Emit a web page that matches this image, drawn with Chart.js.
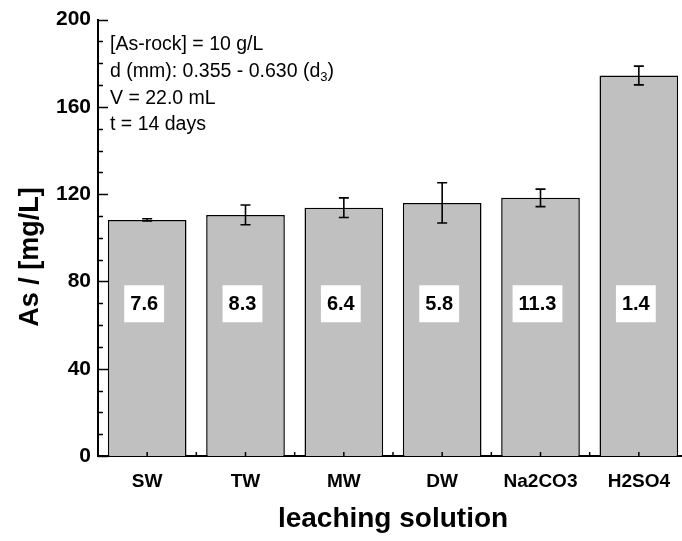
<!DOCTYPE html>
<html>
<head>
<meta charset="utf-8">
<script src="https://cdn.jsdelivr.net/npm/chart.js@4/dist/chart.umd.min.js"></script>
<style>
  html, body { margin: 0; padding: 0; background: #fff; overflow: hidden; }
  #wrap { width: 690px; height: 541px; }
</style>
</head>
<body>
<div id="wrap"><canvas id="leachChart"></canvas></div>
<script>
const solutions = ["SW", "TW", "MW", "DW", "Na2CO3", "H2SO4"];
const asConc = [108.2, 110.5, 113.8, 116.0, 118.3, 174.4];
const asErr = [0.5, 4.5, 4.5, 9.2, 4.0, 4.3];
const ratioLabels = ["7.6", "8.3", "6.4", "5.8", "11.3", "1.4"];
const yTickLabels = [0, 40, 80, 120, 160, 200];
const noteLines = ["[As-rock] = 10 g/L", "d (mm): 0.355 - 0.630 (d", "V = 22.0 mL", "t = 14 days"];

const FONT = "'Liberation Sans', Arial, sans-serif";

const decor = {
  id: "decor",
  afterDatasetsDraw(chart) {
    const ctx = chart.ctx;
    const x = chart.scales.x;
    const y = chart.scales.y;
    ctx.save();
    // error bars
    ctx.strokeStyle = "#000";
    ctx.lineWidth = 1.6;
    asConc.forEach((v, i) => {
      const cx = x.getPixelForValue(i);
      const top = y.getPixelForValue(v + asErr[i]);
      const bot = y.getPixelForValue(v - asErr[i]);
      ctx.beginPath();
      ctx.moveTo(cx, top); ctx.lineTo(cx, bot);
      ctx.moveTo(cx - 5, top); ctx.lineTo(cx + 5, top);
      ctx.moveTo(cx - 5, bot); ctx.lineTo(cx + 5, bot);
      ctx.stroke();
    });
    // white boxes with ratio numbers
    ctx.font = "bold 20px " + FONT;
    ctx.textAlign = "center";
    ctx.textBaseline = "middle";
    const by = y.getPixelForValue(70);
    ratioLabels.forEach((t, i) => {
      const cx = x.getPixelForValue(i) - 3;
      const w = ctx.measureText(t).width + 12;
      ctx.fillStyle = "#fff";
      ctx.fillRect(cx - w / 2, by - 18, w, 37);
      ctx.fillStyle = "#000";
      ctx.fillText(t, cx, by + 1);
    });
    ctx.restore();
  },
  afterDraw(chart) {
    const ctx = chart.ctx;
    const x = chart.scales.x;
    const y = chart.scales.y;
    const area = chart.chartArea;
    ctx.save();
    ctx.strokeStyle = "#000";
    ctx.lineWidth = 1.5;
    // inward y ticks
    for (let v = 0; v <= 200; v += 10) {
      const py = Math.round(y.getPixelForValue(v)) + 0.5;
      const len = v % 40 === 0 ? 10 : 5;
      ctx.beginPath();
      ctx.moveTo(area.left, py);
      ctx.lineTo(area.left + len, py);
      ctx.stroke();
    }
    // inward x ticks at centres and boundaries
    for (let i = 0; i < solutions.length; i++) {
      [x.getPixelForValue(i), x.getPixelForValue(i - 0.5)].forEach((px) => {
        ctx.beginPath();
        ctx.moveTo(px, area.bottom);
        ctx.lineTo(px, area.bottom - 4);
        ctx.stroke();
      });
    }
    // axis titles
    ctx.fillStyle = "#000";
    ctx.textAlign = "center";
    ctx.textBaseline = "middle";
    ctx.font = "bold 28px " + FONT;
    ctx.fillText("leaching solution", (area.left + area.right) / 2, 519);
    ctx.save();
    ctx.translate(31, 257);
    ctx.rotate(-Math.PI / 2);
    ctx.font = "bold 27px " + FONT;
    ctx.fillText("As / [mg/L]", 0, 0);
    ctx.restore();
    // note block
    ctx.textAlign = "left";
    ctx.font = "19.5px " + FONT;
    const lx = area.left + 12;
    noteLines.forEach((t, i) => {
      const ly = 45 + i * 26.7;
      ctx.fillText(t, lx, ly);
      if (i === 1) {
        const w = ctx.measureText(t).width;
        ctx.font = "13px " + FONT;
        ctx.fillText("3", lx + w, ly + 6);
        const w3 = ctx.measureText("3").width;
        ctx.font = "19.5px " + FONT;
        ctx.fillText(")", lx + w + w3, ly);
      }
    });
    ctx.restore();
  }
};

new Chart(document.getElementById("leachChart").getContext("2d"), {
  type: "bar",
  data: {
    labels: solutions,
    datasets: [{
      data: asConc,
      backgroundColor: "#c0c0c0",
      borderColor: "#000",
      borderWidth: 1.5,
      barPercentage: 0.8,
      categoryPercentage: 1.0
    }]
  },
  options: {
    responsive: true,
    maintainAspectRatio: false,
    animation: false,
    layout: { padding: { top: 18, right: 2, left: 0, bottom: 0 } },
    plugins: { legend: { display: false }, tooltip: { enabled: false } },
    scales: {
      x: {
        grid: { display: false, drawTicks: false },
        border: { display: true, color: "#000", width: 2 },
        ticks: { color: "#000", padding: 14, font: { family: FONT, size: 19, weight: "bold" } },
        afterFit(s) { s.height = 85; }
      },
      y: {
        min: 0,
        max: 200,
        grid: { display: false, drawTicks: false },
        border: { display: true, color: "#000", width: 2 },
        ticks: {
          stepSize: 10,
          autoSkip: false,
          color: "#000",
          padding: 7,
          font: { family: FONT, size: 21, weight: "bold" },
          callback: (v) => (yTickLabels.includes(v) ? String(v) : "")
        },
        afterFit(s) { s.width = 98; }
      }
    }
  },
  plugins: [decor]
});
</script>
</body>
</html>
